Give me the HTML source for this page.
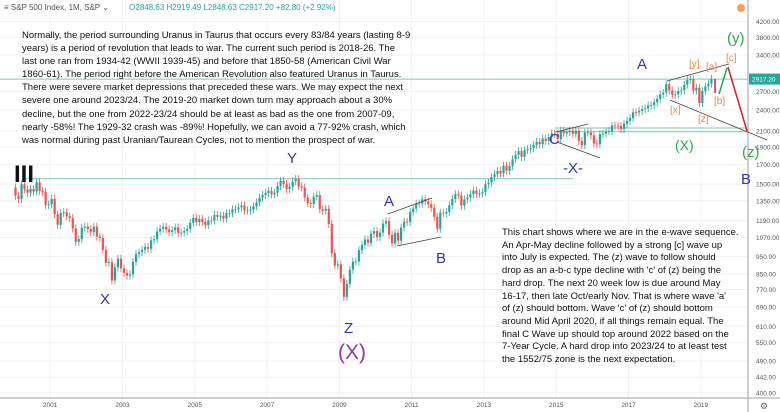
<!DOCTYPE html>
<html><head><meta charset="utf-8"><style>
body{margin:0;background:#fff;font-family:"Liberation Sans",sans-serif;}
#wrap{position:relative;width:780px;height:412px;overflow:hidden;}
.t{position:absolute;white-space:nowrap;}
.note{position:absolute;font-size:9.5px;line-height:13.1px;color:#111;white-space:nowrap;}
</style></head><body>
<div id="wrap">
<svg id="chart" width="780" height="412" style="position:absolute;left:0;top:0"></svg>
<div class="t" style="left:4px;top:3px;font-size:8px;color:#555">≡ S&amp;P 500 Index, 1M, S&amp;P ⌄ <span style="color:#26a69a;margin-left:18px">O2848.63 H2919.49 L2848.63 C2917.20 +82.80 (+2.92%)</span></div>
<div class="note" style="left:22px;top:29px">Normally, the period surrounding Uranus in Taurus that occurs every 83/84 years (lasting 8-9<br>years) is a period of revolution that leads to war. The current such period is 2018-26.  The<br>last one ran from 1934-42 (WWII 1939-45) and before that 1850-58 (American Civil War<br>1860-61). The period right before the American Revolution also featured Uranus in Taurus.<br>There were severe market depressions that preceded these wars.  We may expect the next<br>severe one around 2023/24.  The 2019-20 market down turn may approach about a 30%<br>decline, but the one from 2022-23/24 should be at least as bad as the one from 2007-09,<br>nearly -58%! The 1929-32 crash was -89%! Hopefully, we can avoid a 77-92% crash, which<br>was normal during past Uranian/Taurean Cycles, not to mention the prospect of war.</div>
<div class="note" style="left:502px;top:227px;line-height:12.7px">This chart shows where we are in the e-wave sequence.<br>An Apr-May decline followed by a strong [c] wave up<br>into July is expected.  The (z) wave to follow should<br>drop as an a-b-c type decline with 'c' of (z) being the<br>hard drop.  The next 20 week low is due around May<br>16-17, then late Oct/early Nov. That is where wave 'a'<br>of (z) should bottom.  Wave 'c' of (z) should bottom<br>around Mid April 2020, if all things remain equal. The<br>final C Wave up should top around 2022 based on the<br>7-Year Cycle.  A hard drop into 2023/24 to at least test<br>the 1552/75 zone is the next expectation.</div>
<div class="t" style="left:14px;top:161px;font-size:24px;color:#111;font-weight:bold">III</div>
<div class="t" style="left:100px;top:291px;font-size:15px;color:#3535a8">X</div>
<div class="t" style="left:287px;top:150px;font-size:15px;color:#3535a8">Y</div>
<div class="t" style="left:344px;top:320px;font-size:15px;color:#3535a8">Z</div>
<div class="t" style="left:338px;top:341px;font-size:21px;color:#8e3a9e">(X)</div>
<div class="t" style="left:384px;top:193px;font-size:15px;color:#3535a8">A</div>
<div class="t" style="left:436px;top:250px;font-size:15px;color:#3535a8">B</div>
<div class="t" style="left:549px;top:131px;font-size:15px;color:#3535a8">C</div>
<div class="t" style="left:563px;top:160px;font-size:15px;color:#3535a8">-X-</div>
<div class="t" style="left:637px;top:56px;font-size:15px;color:#3535a8">A</div>
<div class="t" style="left:741px;top:171px;font-size:15px;color:#3535a8">B</div>
<div class="t" style="left:727px;top:30px;font-size:15px;color:#2ea84a">(y)</div>
<div class="t" style="left:675px;top:137px;font-size:14px;color:#2ea84a">(X)</div>
<div class="t" style="left:742px;top:144px;font-size:15px;color:#2ea84a">(z)</div>
<div class="t" style="left:689px;top:59px;font-size:10px;color:#f0883e">[y]</div>
<div class="t" style="left:706px;top:62px;font-size:10px;color:#f0883e">[a]</div>
<div class="t" style="left:726px;top:53px;font-size:10px;color:#f0883e">[c]</div>
<div class="t" style="left:670px;top:105px;font-size:10px;color:#f0883e">[x]</div>
<div class="t" style="left:698px;top:114px;font-size:10px;color:#f0883e">[z]</div>
<div class="t" style="left:714px;top:96px;font-size:10px;color:#f0883e">[b]</div>
</div>
<script>
const yTicks=[4200,3800,3400,2700,2400,2100,1900,1700,1500,1350,1190,1070,950,850,770,690,610,550,490,442,400];
const xYears=[2001,2003,2005,2007,2009,2011,2013,2015,2017,2019];
const startYear=2000;
const closes=[
1394,1366,1499,1452,1421,1455,1431,1518,1437,1429,1315,1320,
1366,1240,1160,1249,1256,1224,1211,1134,1041,1060,1139,1148,
1130,1107,1147,1076,1067,990,912,916,815,886,936,880,
856,841,848,917,964,975,990,1008,996,1051,1058,1112,
1131,1145,1126,1107,1121,1141,1102,1104,1115,1130,1174,1212,
1181,1204,1181,1157,1192,1191,1234,1220,1229,1207,1249,1248,
1280,1281,1295,1311,1270,1270,1277,1304,1336,1378,1401,1418,
1438,1407,1421,1482,1531,1503,1455,1474,1527,1549,1481,1468,
1379,1331,1323,1386,1400,1280,1267,1283,1166,969,896,903,
826,735,798,873,919,919,987,1021,1057,1036,1096,1115,
1074,1104,1169,1187,1089,1031,1102,1049,1141,1183,1181,1258,
1286,1327,1326,1364,1345,1321,1292,1219,1131,1253,1247,1258,
1312,1366,1408,1398,1310,1362,1379,1407,1441,1412,1416,1426,
1498,1515,1569,1598,1631,1606,1686,1633,1682,1757,1806,1848,
1783,1859,1872,1884,1924,1960,1931,2003,1972,2018,2068,2059,
1995,2105,2068,2086,2107,2063,2104,1972,1920,2079,2080,2044,
1940,1932,2060,2065,2097,2099,2174,2171,2168,2126,2199,2239,
2279,2364,2363,2384,2412,2423,2470,2472,2519,2575,2648,2674,
2824,2714,2641,2648,2705,2718,2816,2902,2914,2712,2760,2507,
2704,2784,2834,2917];
const firstOpen=1469;
const lastPrice=2917.20;
const NS="http://www.w3.org/2000/svg";
const svg=document.getElementById('chart');
const PR=748;
function yS(v){return 393-158*Math.log(v/400);}
function xS(t){return 14+(t-startYear)*36.15;}
function mk(tag,attrs){const e=document.createElementNS(NS,tag);for(const k in attrs)e.setAttribute(k,attrs[k]);svg.appendChild(e);return e;}
yTicks.forEach(v=>{const y=yS(v);
 const g=mk('line',{x1:0,x2:PR,y1:y,y2:y,stroke:'#eef0f3','stroke-width':1});
 
 
 const t=mk('text',{x:756,y:y+2.5,'font-size':6.5,fill:'#555'});
 
 
 t.textContent=v.toFixed(2);});
xYears.forEach(yr=>{const x=xS(yr);
 const g=mk('line',{x1:x,x2:x,y1:0,y2:398,stroke:'#eef0f3','stroke-width':1});
 
 
 const t=mk('text',{x:x,y:407,'font-size':6.5,fill:'#555','text-anchor':'middle'});
 
 
 t.textContent=yr;});
mk('line',{x1:PR,x2:PR,y1:0,y2:412,stroke:'#9aa0a8','stroke-width':1});
mk('line',{x1:0,x2:780,y1:398,y2:398,stroke:'#9aa0a8','stroke-width':1});
function hl(v,x1,x2,name){const y=yS(v);const l=mk('line',{x1:x1,x2:x2,y1:y,y2:y,stroke:'#7fc9b3','stroke-width':1});
 
 }
hl(lastPrice,0,PR,'last-price-line');
hl(1552,22,573,'support-1552-line');
hl(2140,555,PR,'zone-2100-upper-line');
hl(2090,555,PR,'zone-2100-lower-line');
for(let i=0;i<closes.length;i++){
 const o=i?closes[i-1]:firstOpen,c=closes[i];
 const hi=Math.max(o,c)*1.025,lo=Math.min(o,c)*0.975;
 const x=xS(startYear+i/12+1/24);const up=c>=o;const col=up?'#26a69a':'#ef5350';
 const w=mk('line',{x1:x,x2:x,y1:yS(hi),y2:yS(lo),stroke:col,'stroke-width':0.8});
 
 
 const yt=yS(Math.max(o,c)),yb=yS(Math.min(o,c));
 const b=mk('rect',{x:x-1.1,y:yt,width:2.2,height:Math.max(0.8,yb-yt),fill:col});
 
 }
function tl(x1,y1,x2,y2,col,w,name){const l=mk('line',{x1,y1,x2,y2,stroke:col,'stroke-width':w});
 
 }
tl(388,214,432,198,'#444',0.8,'trendline-a-upper');
tl(397,246,441,237,'#444',0.8,'trendline-a-lower');
tl(556,132,588,124,'#444',0.8,'trendline-c-upper');
tl(557,142,600,158,'#444',0.8,'trendline-c-lower');
tl(667,81,729,64,'#444',0.8,'trendline-top-upper');
tl(670,100,767,140,'#444',0.8,'trendline-top-lower');
tl(715,79,715,93,'#e0192b',1.5,'projection-b');
tl(719,94,727,68,'#2ea84a',1.5,'projection-c');
tl(728,67,747,131,'#e0192b',1.5,'projection-z');
const pr=mk('rect',{x:749,y:yS(lastPrice)-5.5,width:31,height:11,fill:'#26a69a'});


const pt=mk('text',{x:752,y:yS(lastPrice)+2.5,'font-size':6.5,fill:'#fff'});


pt.textContent=lastPrice.toFixed(2);
const oc=mk('circle',{cx:741,cy:8,r:4,fill:'#f5a05a'});


const gear=mk('text',{x:764,y:409,'font-size':9,fill:'#666','text-anchor':'middle'});


gear.textContent='⚙';
</script>
</body></html>
